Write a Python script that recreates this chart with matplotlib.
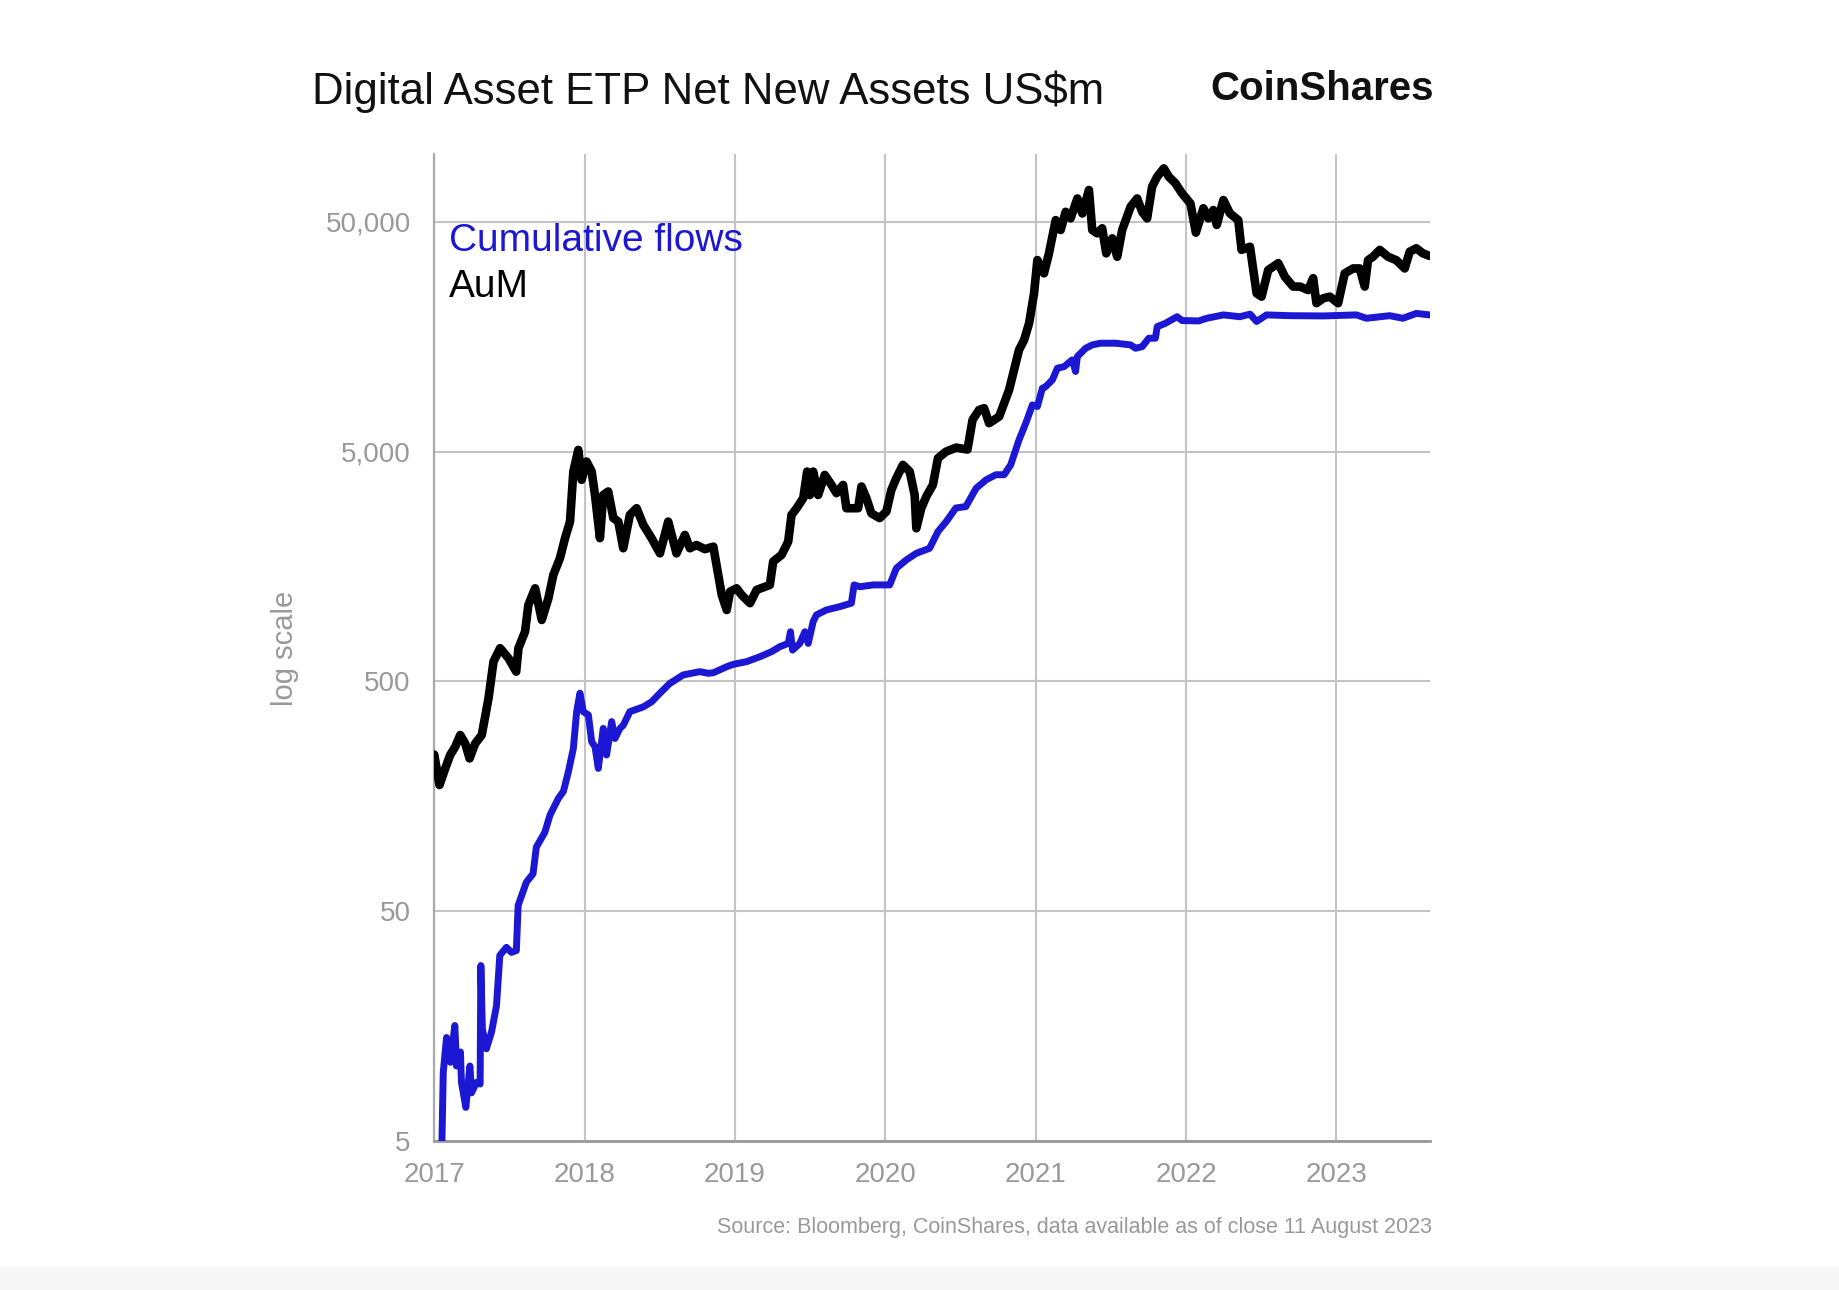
import matplotlib
matplotlib.use("Agg")
import matplotlib.pyplot as plt
from matplotlib.patches import Rectangle

plt.rcParams['font.family'] = ['Liberation Sans', 'DejaVu Sans']

# AuM, US$m (decimal years)
aum_t = [2017.000, 2017.035, 2017.073, 2017.106, 2017.140, 2017.173, 2017.206, 2017.235,
         2017.272, 2017.316, 2017.361, 2017.394, 2017.438, 2017.494, 2017.545, 2017.560,
         2017.604, 2017.626, 2017.671, 2017.715, 2017.759, 2017.792, 2017.836, 2017.870,
         2017.903, 2017.925, 2017.958, 2017.980, 2018.013, 2018.047, 2018.069, 2018.102,
         2018.124, 2018.157, 2018.191, 2018.224, 2018.257, 2018.301, 2018.346, 2018.390,
         2018.445, 2018.501, 2018.556, 2018.611, 2018.667, 2018.700, 2018.744, 2018.800,
         2018.856, 2018.889, 2018.912, 2018.945, 2018.967, 2019.011, 2019.044, 2019.100,
         2019.144, 2019.232, 2019.254, 2019.310, 2019.354, 2019.376, 2019.410, 2019.454,
         2019.480, 2019.498, 2019.520, 2019.553, 2019.597, 2019.642, 2019.675, 2019.719,
         2019.741, 2019.785, 2019.819, 2019.841, 2019.874, 2019.907, 2019.962, 2020.007,
         2020.040, 2020.073, 2020.117, 2020.162, 2020.195, 2020.206, 2020.239, 2020.272,
         2020.316, 2020.350, 2020.405, 2020.471, 2020.546, 2020.580, 2020.624, 2020.657,
         2020.690, 2020.757, 2020.790, 2020.823, 2020.856, 2020.889, 2020.923, 2020.956,
         2020.989, 2021.011, 2021.055, 2021.088, 2021.133, 2021.166, 2021.199, 2021.232,
         2021.277, 2021.310, 2021.354, 2021.376, 2021.409, 2021.442, 2021.469, 2021.509,
         2021.542, 2021.575, 2021.631, 2021.675, 2021.708, 2021.741, 2021.774, 2021.808,
         2021.852, 2021.885, 2021.929, 2021.973, 2022.029, 2022.065, 2022.115, 2022.148,
         2022.181, 2022.204, 2022.248, 2022.292, 2022.347, 2022.369, 2022.425, 2022.447,
         2022.469, 2022.502, 2022.546, 2022.613, 2022.657, 2022.712, 2022.757, 2022.812,
         2022.845, 2022.867, 2022.912, 2022.956, 2023.011, 2023.055, 2023.111, 2023.155,
         2023.188, 2023.210, 2023.243, 2023.288, 2023.343, 2023.398, 2023.454, 2023.487,
         2023.531, 2023.575, 2023.619]
aum_v = [240, 177, 209, 239, 260, 292, 268, 231,
         268, 292, 422, 609, 697, 630, 551, 697,
         823, 1075, 1270, 925, 1148, 1452, 1718, 2100,
         2478, 4090, 5083, 3765, 4522, 4090, 3234, 2100,
         3234, 3350, 2566, 2478, 1897, 2650, 2833, 2400,
         2100, 1803, 2478, 1803, 2168, 1897, 1960, 1880,
         1928, 1452, 1188, 1022, 1228, 1270, 1188, 1094,
         1250, 1314, 1660, 1775, 2028, 2650, 2833, 3133,
         4090, 3234, 4090, 3234, 3955, 3578, 3296, 3578,
         2833, 2833, 2833, 3522, 3133, 2692, 2566, 2742,
         3404, 3828, 4375, 4090, 3234, 2317, 2833, 3184,
         3578, 4677, 5000, 5200, 5100, 6870, 7590, 7715,
         6640, 7100, 8110, 9270, 11320, 13830, 15300, 18080,
         24400, 34050, 29800, 36400, 50800, 46000, 55200, 51700,
         63100, 54300, 68700, 46000, 44500, 46800, 36400, 42300,
         35200, 46000, 58100, 63100, 55200, 51700, 71000, 78500,
         85300, 78500, 73500, 66400, 60000, 44800, 57200, 51700,
         56200, 48400, 62100, 54300, 50800, 37700, 38900, 30800,
         24400, 23600, 30800, 33000, 28800, 26100, 26100, 25200,
         28400, 22100, 23200, 23600, 22100, 29800, 31300, 31300,
         26100, 34000, 35200, 37700, 35200, 34000, 31300, 37000,
         38300, 36400, 35500]

# Cumulative flows, US$m
flow_t = [2017.050, 2017.060, 2017.082, 2017.108, 2017.137, 2017.148, 2017.174, 2017.181,
          2017.210, 2017.237, 2017.248, 2017.281, 2017.305, 2017.310, 2017.320, 2017.347,
          2017.381, 2017.414, 2017.436, 2017.480, 2017.513, 2017.546, 2017.558, 2017.613,
          2017.657, 2017.679, 2017.735, 2017.770, 2017.826, 2017.859, 2017.892, 2017.925,
          2017.947, 2017.969, 2017.991, 2018.025, 2018.047, 2018.069, 2018.091, 2018.124,
          2018.146, 2018.180, 2018.202, 2018.235, 2018.257, 2018.301, 2018.390, 2018.445,
          2018.501, 2018.567, 2018.655, 2018.766, 2018.822, 2018.856, 2018.945, 2018.989,
          2019.077, 2019.166, 2019.243, 2019.299, 2019.354, 2019.369, 2019.383, 2019.431,
          2019.465, 2019.487, 2019.520, 2019.542, 2019.608, 2019.697, 2019.774, 2019.792,
          2019.830, 2019.918, 2020.029, 2020.073, 2020.139, 2020.206, 2020.294, 2020.350,
          2020.405, 2020.469, 2020.535, 2020.604, 2020.670, 2020.735, 2020.790, 2020.834,
          2020.889, 2020.934, 2020.978, 2021.011, 2021.044, 2021.066, 2021.111, 2021.144,
          2021.188, 2021.243, 2021.265, 2021.277, 2021.332, 2021.376, 2021.431, 2021.531,
          2021.631, 2021.664, 2021.708, 2021.752, 2021.796, 2021.808, 2021.863, 2021.940,
          2021.973, 2022.084, 2022.137, 2022.248, 2022.358, 2022.425, 2022.469, 2022.535,
          2022.690, 2022.912, 2023.133, 2023.199, 2023.354, 2023.442, 2023.531, 2023.619]
flow_v = [4.5, 9.95, 14.1, 11.0, 15.9, 10.6, 12.2, 9.0,
          7.0, 10.6, 8.1, 9.0, 8.85, 29.0, 15.4, 12.6,
          14.9, 19.4, 32.1, 34.8, 33.1, 33.7, 53, 66.9,
          72.7, 95, 110, 131, 155, 166, 202, 255,
          369, 444, 369, 357, 273, 260, 209, 312,
          239, 334, 282, 312, 322, 369, 387, 407,
          444, 490, 533, 551, 542, 545, 579, 593,
          609, 640, 673, 708, 731, 822, 684, 731,
          822, 731, 910, 973, 1022, 1057, 1094, 1314,
          1290, 1314, 1314, 1552, 1687, 1803, 1896, 2243,
          2478, 2840, 2880, 3462, 3765, 3963, 3963, 4380,
          5620, 6640, 7980, 7850, 9420, 9580, 10250, 11520,
          11700, 12520, 11150, 12950, 14070, 14550, 14800, 14800,
          14550, 14070, 14300, 15560, 15560, 17470, 18070, 19300,
          18570, 18500, 19000, 19650, 19300, 19800, 18400, 19650,
          19500, 19450, 19650, 19000, 19500, 19000, 19950, 19650]

years = [2017, 2018, 2019, 2020, 2021, 2022, 2023]
yticks = [5, 50, 500, 5000, 50000]
ylabels = ['5', '50', '500', '5,000', '50,000']

fig = plt.figure(figsize=(18.4, 12.9), dpi=100)
fig.patches.append(Rectangle((0, 0), 1, 0.018, transform=fig.transFigure,
                             color='#f7f7f7', zorder=0))
ax = fig.add_axes([0.236, 0.1155, 0.541, 0.7655])

ax.plot(aum_t, aum_v, color='black', lw=6.2, solid_joinstyle='round',
        solid_capstyle='round', zorder=3)
ax.plot(flow_t, flow_v, color='#1c17d2', lw=5, solid_joinstyle='round',
        solid_capstyle='round', zorder=4)

ax.set_yscale('log')
ax.set_ylim(5, 99000)
ax.set_xlim(2017, 2023.62)
ax.set_yticks(yticks)
ax.set_yticklabels(ylabels)
ax.minorticks_off()
ax.set_xticks(years)
ax.set_xticklabels([str(y) for y in years])
ax.tick_params(length=0, labelsize=20, labelcolor='#999999')
ax.tick_params(axis='y', pad=17)
ax.tick_params(axis='x', pad=15)
ax.grid(True, color='#c4c4c4', lw=1.5)
ax.set_axisbelow(True)
for s in ['top', 'right']:
    ax.spines[s].set_visible(False)
ax.spines['left'].set_color('#aaaaaa')
ax.spines['left'].set_linewidth(1.6)
ax.spines['bottom'].set_color('#999999')
ax.spines['bottom'].set_linewidth(2)

ax.text(0.015, 0.911, 'Cumulative flows', transform=ax.transAxes, color='#1c17d2',
        fontsize=28, va='center', ha='left')
ax.text(0.015, 0.865, 'AuM', transform=ax.transAxes, color='black',
        fontsize=28, va='center', ha='left')

fig.text(0.1696, 0.929, 'Digital Asset ETP Net New Assets US$m', fontsize=31.5,
         va='center', ha='left', color='#111111')
fig.text(0.7793, 0.931, 'CoinShares', fontsize=29, fontweight='bold',
         va='center', ha='right', color='#111111')
fig.text(0.155, 0.4977, 'log scale', rotation=90, fontsize=21, color='#999999',
         va='center', ha='center')
fig.text(0.7783, 0.0485, 'Source: Bloomberg, CoinShares, data available as of close 11 August 2023',
         fontsize=15.5, color='#999999', va='center', ha='right')

fig.savefig('out.png', dpi=100)
